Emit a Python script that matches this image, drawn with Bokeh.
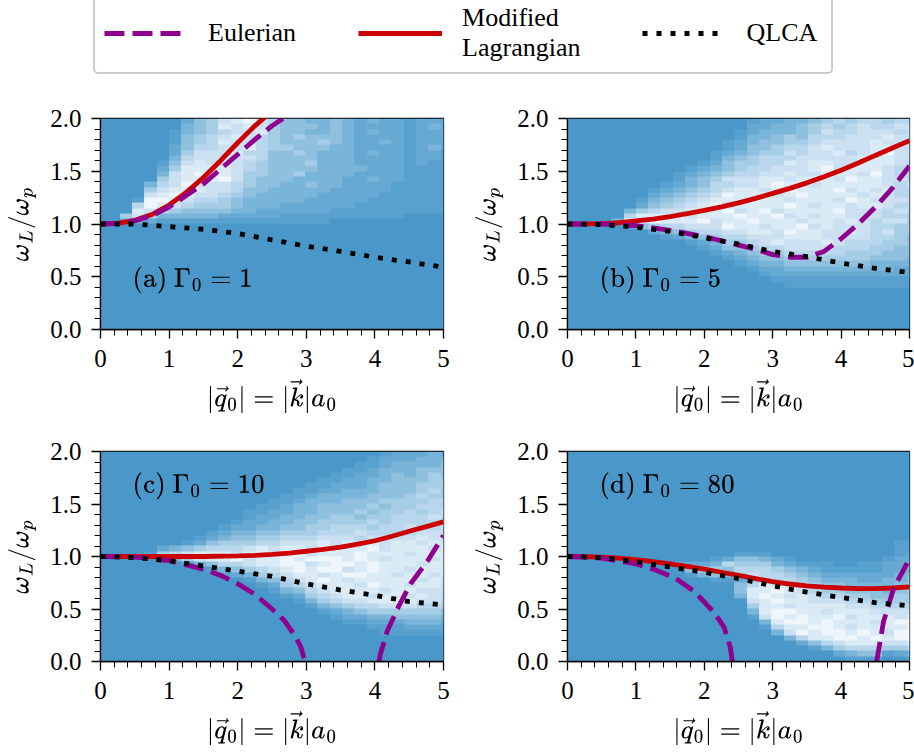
from bokeh.plotting import figure
from bokeh.models import Range1d, FixedTicker, LinearColorMapper, Label, Legend, LegendItem, PrintfTickFormatter
from bokeh.layouts import column, row
from bokeh.embed import file_html
from bokeh.resources import INLINE
import numpy as np

SERIF = "Liberation Serif"
palette = ["#4a98c9", "#58a0ce", "#66a9d3", "#79b5d9", "#8fc1df", "#a5cde5",
           "#b9d7ec", "#cbe1f1", "#dbebf6", "#eef5fb"]

# spectra rows listed from y=1.975 (top) to y=0.025, 40 rows, 29 columns in groups
Z = "00000 00000 00000 00000 00000 0000"
heat_a = """00000 00245 78976 44334 32322 1222
00000 00345 87875 44434 32222 1232
00000 01345 67785 44334 32322 1222
00000 01456 78765 45444 32222 1222
00000 01456 87765 44454 32232 1222
00000 02466 77865 54443 32222 1232
00000 02577 78664 45433 32322 1221
00000 03677 77764 44433 32222 1221
00000 14787 77654 44533 32222 1211
00000 25888 87654 44433 33222 1111
00000 37898 87554 45333 32222 1111
00000 57888 97544 43333 22322 1111
00003 67977 76544 33433 22221 1111
00005 78887 76443 33332 22221 1111
00007 89877 65433 33322 22211 1111
00019 98766 54333 33222 22111 1111
00069 87655 54333 22222 21111 1111
00087 65444 43322 22221 11111 1111
00575 33333 22222 11111 11111 0000
00232 11111 11111 11110 00000 0000""".split("\n") + [Z] * 20
heat_b = """00000 00000 00000 12233 45656 6566
00000 00000 00000 22334 56567 6677
00000 00000 00001 23334 57667 7767
00000 00000 00001 33454 66677 7877
00000 00000 00012 34455 67777 8776
00000 00000 00012 44566 78777 8877
00000 00000 00123 45576 77867 8977
00000 00000 00134 56667 77778 8877
00000 00000 01245 56687 88778 8876
00000 00000 12345 66777 89788 8766
00000 00001 23456 67787 78887 9766
00000 00001 34577 78878 88798 8776
00000 00012 34667 78988 78888 8767
00000 00123 45678 87898 88978 7866
00000 00234 56798 88789 88887 8766
00000 01345 67888 98878 88798 7776
00000 02456 78978 88898 78878 8766
00000 35677 88897 89788 88977 7676
00000 68889 78889 88978 78877 7665
00003 98988 89788 98887 88787 6775
00000 14566 77798 87889 78777 6655
00000 00234 56677 88798 87787 6755
00000 00012 34566 77788 87777 6654
00000 00000 12355 67877 78766 6554
00000 00000 01244 56677 77666 5544
00000 00000 00123 45566 66655 5444
00000 00000 00012 34455 55555 4443
00000 00000 00001 23344 44444 3333
00000 00000 00000 12233 33333 3322
00000 00000 00000 01222 22222 2222
00000 00000 00000 00111 11111 1111
00000 00000 00000 00011 11111 1111""".split("\n") + [Z] * 8
heat_c = """00000 00000 00000 00000 00012 2232
00000 00000 00000 00000 00122 2333
00000 00000 00000 00000 01123 3334
00000 00000 00000 00000 11233 3444
00000 00000 00000 00001 12234 3454
00000 00000 00000 00011 22334 4455
00000 00000 00000 00112 22344 4555
00000 00000 00000 01122 33344 4565
00000 00000 00000 11233 33444 5655
00000 00000 00001 12333 44455 5566
00000 00000 00011 23344 44545 5666
00000 00000 00112 23344 45455 6567
00000 00000 00122 33445 54556 6676
00000 00000 01223 34455 55656 6667
00000 00000 12233 44556 66566 7667
00000 00001 23344 55566 67666 6777
00000 00012 34455 66677 76777 7877
00000 00124 55566 77787 87878 8787
00000 23456 66787 88798 88978 8878
00001 56788 87898 89788 89888 7888
00000 03578 89788 98999 89878 8878
00000 00134 66788 99789 98988 8788
00000 00001 34567 89899 78988 7888
00000 00000 12356 78878 99887 8878
00000 00000 00134 67898 78888 8787
00000 00000 00012 56788 87988 7887
00000 00000 00001 34678 88878 8777
00000 00000 00000 12567 88788 7876
00000 00000 00000 01356 77888 8776
00000 00000 00000 00134 56677 7665
00000 00000 00000 00012 34555 5554
00000 00000 00000 00001 22334 4443
00000 00000 00000 00000 11222 3332
00000 00000 00000 00000 00111 2221
00000 00000 00000 00000 00011 1111""".split("\n") + [Z] * 5
heat_d = [Z] * 17 + """00000 00000 00000 00000 00000 0011
00000 00000 00000 00000 00000 0011
00000 00000 00001 11000 00000 0012
00000 00000 00124 43210 00000 0122
00000 00002 22365 55321 11001 1223
00000 00000 45546 66543 21111 1223
00000 00000 13435 76654 32222 2234
00000 00000 00112 57665 43332 2334
00000 00000 00004 68776 54433 3345
00000 00000 00004 88987 65544 4345
00000 00000 00003 89878 76655 4455
00000 00000 00000 78988 77766 5555
00000 00000 00000 58878 88877 6666
00000 00000 00000 38998 87888 7777
00000 00000 00000 17989 88978 8878
00000 00000 00000 03899 89888 7899
00000 00000 00000 01688 99878 8889
00000 00000 00000 00379 89989 8799
00000 00000 00000 00036 88998 9899
00000 00000 00000 00002 46788 8778
00000 00000 00000 00000 13566 6556
00000 00000 00000 00000 00234 4123
00000 00000 00000 00000 00011 1001""".split("\n")

# panel (a)
lag_a_x = [0, .25, .5, .75, 1, 1.25, 1.5, 1.75, 2, 2.25, 2.5]
lag_a_y = [1, 1.005, 1.035, 1.09, 1.18, 1.3, 1.44, 1.6, 1.77, 1.93, 2.07]
eul_a_x = [0, .25, .5, .75, 1, 1.25, 1.5, 1.75, 2, 2.25, 2.5, 2.75]
eul_a_y = [1, 1.005, 1.03, 1.08, 1.16, 1.27, 1.38, 1.52, 1.66, 1.8, 1.93, 2.04]
qlca_a_x = [0, .5, 1, 1.5, 2, 2.5, 3, 3.5, 4, 4.5, 5]
qlca_a_y = [1, 1.0, .975, .95, .91, .85, .79, .74, .685, .64, .59]
# panel (b)
lag_b_x = [0, .5, .75, 1, 1.25, 1.5, 1.75, 2, 2.25, 2.5, 2.75, 3, 3.25, 3.5, 3.75, 4, 4.25, 4.5, 4.75, 5]
lag_b_y = [1, 1.003, 1.012, 1.03, 1.047, 1.07, 1.098, 1.13, 1.163, 1.2, 1.243, 1.29, 1.338, 1.39, 1.448,
           1.51, 1.578, 1.65, 1.72, 1.79]
eul_b_x = [0, .5, 1, 1.5, 2, 2.5, 2.75, 3, 3.25, 3.5, 3.75, 4, 4.25, 4.5, 4.75, 5]
eul_b_y = [1, 1, .985, .94, .88, .8, .76, .71, .685, .685, .74, .86, 1.0, 1.16, 1.34, 1.55]
qlca_b_x = [0, .5, 1, 1.5, 2, 2.5, 3, 3.5, 4, 4.5, 5]
qlca_b_y = [1, .995, .97, .93, .87, .81, .74, .69, .63, .58, .54]
# panel (c)
lag_c_x = [0, .5, 1, 1.5, 2, 2.25, 2.5, 2.75, 3, 3.25, 3.5, 3.75, 4, 4.25, 4.5, 4.75, 5]
lag_c_y = [1, 1, 1, 1, 1.005, 1.01, 1.02, 1.033, 1.05, 1.068, 1.09, 1.118, 1.15, 1.193, 1.24, 1.285, 1.33]
eul_c_x = [0, .5, 1, 1.25, 1.5, 1.75, 2, 2.25, 2.5, 2.68, 2.82, 2.92, 2.98]
eul_c_y = [1, .995, .96, .92, .88, .82, .74, .64, .5, .39, .26, .14, 0]
eul_c2_x = [4.06, 4.08, 4.18, 4.35, 4.52, 4.77, 5]
eul_c2_y = [0, .07, .29, .53, .74, .96, 1.2]
qlca_c_x = [0, .5, 1, 1.5, 2, 2.5, 3, 3.5, 4, 4.5, 5]
qlca_c_y = [1, .99, .96, .91, .86, .81, .74, .68, .63, .57, .54]
# panel (d)
lag_d_x = [0, .25, .5, .75, 1, 1.25, 1.5, 1.75, 2, 2.25, 2.5, 2.75, 3, 3.25, 3.5, 3.75, 4, 4.25, 4.5, 4.75, 5]
lag_d_y = [1, .999, .993, .985, .97, .952, .93, .906, .88, .85, .82, .79, .76, .738, .72, .708, .70, .695,
           .695, .70, .71]
eul_d_x = [0, .5, 1, 1.25, 1.56, 1.85, 2.14, 2.29, 2.38, 2.41]
eul_d_y = [1, .985, .93, .88, .8, .67, .47, .325, .135, 0]
eul_d2_x = [4.52, 4.62, 4.77, 4.96, 5]
eul_d2_y = [0, .38, .7, .93, .98]
qlca_d_x = [0, .5, 1, 1.5, 2, 2.5, 3, 3.5, 4, 4.5, 5]
qlca_d_y = [1, .99, .95, .9, .85, .79, .72, .66, .61, .56, .53]

x_ticks = [0, 1, 2, 3, 4, 5]
x_minor = [0.2, 0.4, 0.6, 0.8, 1.2, 1.4, 1.6, 1.8, 2.2, 2.4, 2.6, 2.8, 3.2, 3.4, 3.6, 3.8, 4.2, 4.4, 4.6, 4.8]
y_ticks = [0, 0.5, 1.0, 1.5, 2.0]
y_minor = [.1, .2, .3, .4, .6, .7, .8, .9, 1.1, 1.2, 1.3, 1.4, 1.6, 1.7, 1.8, 1.9]

RED, PURPLE, BLACK = "#cc0000", "#8f008f", "#000000"
LW = 4.8
DASH, DOT = "20 8", "5 9"
mapper = LinearColorMapper(palette=palette, low=0, high=9)


def panel(heat, lag, eul, qlca, tag, lab_y, left, right, top, bottom, fh, fw):
    p = figure(x_range=Range1d(0, 5), y_range=Range1d(0, 2), frame_width=fw, frame_height=fh,
               min_border_left=left, min_border_right=right, min_border_top=top, min_border_bottom=bottom,
               output_backend="svg", toolbar_location=None, tools="")
    p.grid.visible = False
    rows = [[int(c) for c in r.replace(" ", "")] for r in heat]
    arr = np.array(rows[::-1], dtype=float)
    p.image(image=[arr], x=-0.08, y=0, dw=5.22, dh=2, color_mapper=mapper)
    p.line(*lag, line_color=RED, line_width=LW)
    for e in eul:
        p.line(*e, line_color=PURPLE, line_width=LW, line_dash=DASH)
    p.line(*qlca, line_color=BLACK, line_width=LW, line_dash=DOT)
    for ax, tk, mn, lab, sz in ((p.xaxis[0], x_ticks, x_minor, r"$$|\vec{q}_0| = |\vec{k}|a_0$$", "21.5px"),
                                (p.yaxis[0], y_ticks, y_minor, r"$$\omega_L/\omega_p$$", "22px")):
        ax.ticker = FixedTicker(ticks=tk, minor_ticks=mn)
        ax.axis_label = lab
        ax.axis_label_text_font_size = sz
        ax.axis_label_text_color = "#000000"
        ax.axis_label_text_font_style = "normal"
        ax.major_label_text_font = SERIF
        ax.major_label_text_font_size = "25px"
        ax.major_label_text_color = "#000000"
        ax.major_tick_line_color = "#000000"
        ax.minor_tick_line_color = "#000000"
        ax.major_tick_line_width = 1.3
        ax.minor_tick_line_width = 1.0
        ax.major_tick_out = 9
        ax.major_tick_in = 0
        ax.minor_tick_out = 6
        ax.minor_tick_in = 0
        ax.axis_line_color = "#000000"
        ax.axis_line_width = 1.3
    p.yaxis[0].formatter = PrintfTickFormatter(format="%.1f")
    p.xaxis[0].major_label_standoff = 11
    p.yaxis[0].major_label_standoff = 10
    p.xaxis[0].axis_label_standoff = 7
    p.yaxis[0].axis_label_standoff = 11
    p.outline_line_color = "#000000"
    p.outline_line_width = 1.3
    p.outline_line_alpha = 1
    p.add_layout(Label(x=32, y=lab_y, x_units="screen", y_units="screen", text=tag,
                       text_font_size="22.5px", text_color="#000000"))
    return p


pa = panel(heat_a, (lag_a_x, lag_a_y), [(eul_a_x, eul_a_y)], (qlca_a_x, qlca_a_y),
           r"$$\text{(a) }\Gamma_0 = 1$$", 36, 100, 17, 38, 101, 211, 343)
pb = panel(heat_b, (lag_b_x, lag_b_y), [(eul_b_x, eul_b_y)], (qlca_b_x, qlca_b_y),
           r"$$\text{(b) }\Gamma_0 = 5$$", 36, 107, 5, 38, 101, 211, 342)
pc = panel(heat_c, (lag_c_x, lag_c_y), [(eul_c_x, eul_c_y), (eul_c2_x, eul_c2_y)], (qlca_c_x, qlca_c_y),
           r"$$\text{(c) }\Gamma_0 = 10$$", 162, 100, 17, 21, 85, 210, 343)
pd = panel(heat_d, (lag_d_x, lag_d_y), [(eul_d_x, eul_d_y), (eul_d2_x, eul_d2_y)], (qlca_d_x, qlca_d_y),
           r"$$\text{(d) }\Gamma_0 = 80$$", 162, 107, 5, 21, 85, 210, 342)

# legend panel: the curves lie outside its range, only the legend keys show
leg = figure(x_range=Range1d(10, 11), y_range=Range1d(10, 11), width=914, height=80,
             min_border=0, output_backend="svg", toolbar_location=None, tools="")
leg.axis.visible = False
leg.grid.visible = False
leg.outline_line_color = None
r1 = leg.line(eul_a_x, eul_a_y, line_color=PURPLE, line_width=LW, line_dash=DASH)
r2 = leg.line(lag_a_x, lag_a_y, line_color=RED, line_width=LW)
r3 = leg.line(qlca_a_x, qlca_a_y, line_color=BLACK, line_width=LW, line_dash=DOT)
legend = Legend(items=[LegendItem(label="Eulerian", renderers=[r1]),
                       LegendItem(label="Modified\nLagrangian", renderers=[r2]),
                       LegendItem(label="QLCA ", renderers=[r3])],
                orientation="horizontal", location=(93, 6), label_text_font=SERIF,
                label_text_font_size="26px", label_text_color="#000000",
                glyph_width=84, label_standoff=20, spacing=62, padding=9, margin=0,
                border_line_color="#cccccc", border_line_width=2, border_line_alpha=1,
                background_fill_alpha=1)
if "border_radius" in Legend.properties():
    legend.border_radius = 5
leg.add_layout(legend, "center")

layout = column(leg, row(pa, pb), row(pc, pd), spacing=0)
open("out.html", "w").write(file_html(layout, INLINE))
